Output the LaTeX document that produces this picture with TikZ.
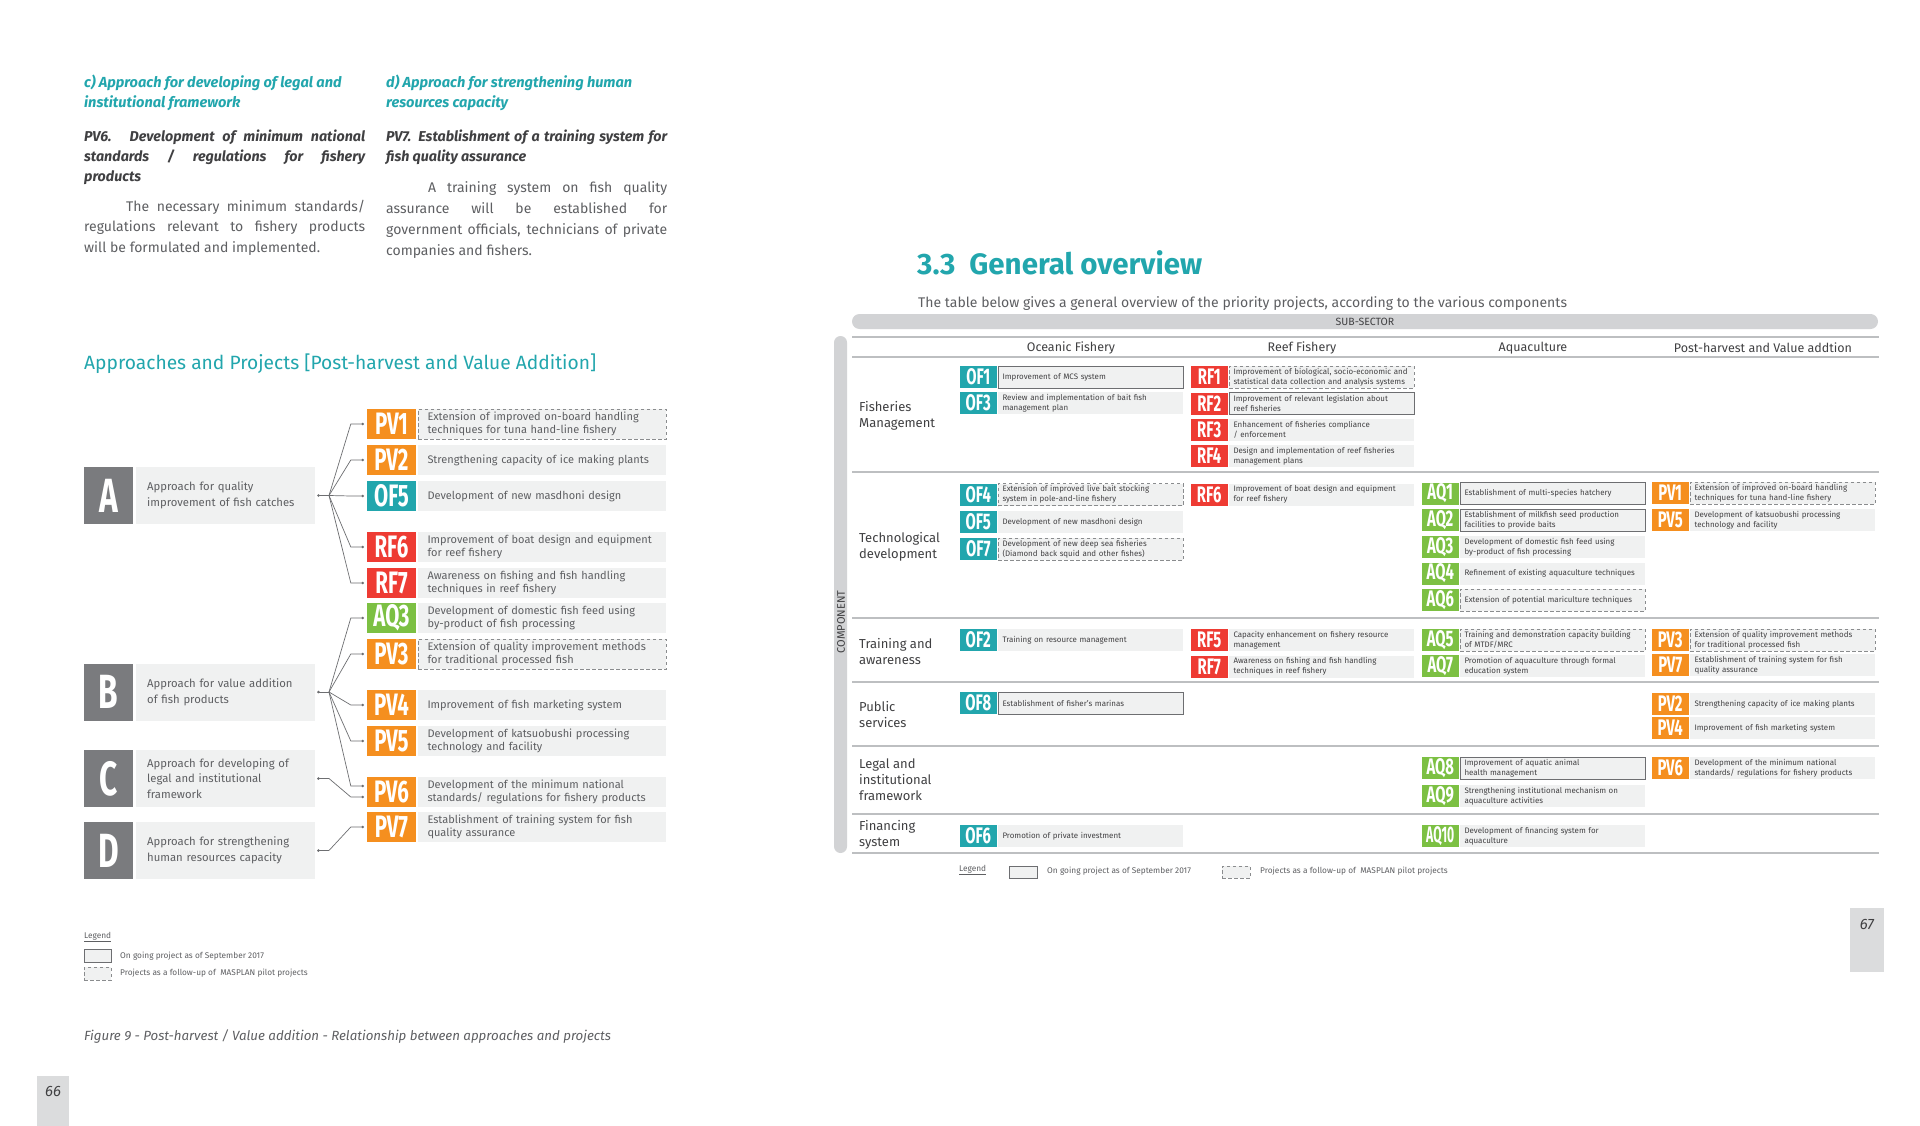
\documentclass[tikz,border=0pt]{standalone}
\usepackage{fontspec}
\setmainfont{Fira Sans}
\newfontfamily\codefont[FakeStretch=0.66]{Fira Sans}
\definecolor{cTeal}{HTML}{22A6AD}
\definecolor{cOrange}{HTML}{F58F1F}
\definecolor{cRed}{HTML}{EE3B33}
\definecolor{cGreen}{HTML}{7CC043}
\definecolor{cDark}{HTML}{7A7B7E}
\definecolor{cLight}{HTML}{F0F1F1}
\definecolor{cBody}{HTML}{5E5F62}
\definecolor{cHead}{HTML}{404042}
\definecolor{cLine}{HTML}{6D6E71}
\definecolor{cDash}{HTML}{8A8C8E}
\definecolor{cBar}{HTML}{D2D3D5}
\definecolor{cRule}{HTML}{BDBFC1}
\definecolor{cCell}{HTML}{414042}
\newcommand\lrow[6]{%
  \node[lcode,fill=#3] (#1c) at (391.5,#2) {#4};
  \node[ltext,#5] (#1t) at (542,#2) {#6};}
\newcommand\tcell[7]{%
  \node[tcode,fill=#4] (#1) at ({#2+18.25},#3) {#5};
  \node[ttext,#7] (#1t) at ({#2+130.5},#3) {#6};}
\newcommand\fanline[3]{%
  \draw[conn] (#1) -- ([xshift=-16pt,yshift=#3]#2.west) -- ([xshift=-4pt,yshift=#3]#2.west);
  \fill[cLine] ([xshift=-4pt,yshift=#3]#2.west) circle (1.4pt);}
\newcommand\jl[2]{\makebox[#1][s]{#2}}
\begin{document}
\begin{tikzpicture}[x=1pt,y=-1pt,
  lcode/.style={minimum width=49pt,minimum height=30pt,inner sep=0pt,text=white,font={\codefont\bfseries\fontsize{31}{31}\selectfont}},
  ltext/.style={fill=cLight,minimum width=248pt,minimum height=30pt,inner sep=0pt,text width=229pt,align=left,text=cBody,font={\fontsize{11}{12.7}\selectfont}},
  dashbox/.style={draw=cDash,dash pattern=on 3.5pt off 2.5pt,line width=0.9pt},
  solidbox/.style={draw=cLine,line width=0.9pt},
  conn/.style={draw=cLine,line width=0.7pt},
  apdark/.style={fill=cDark,minimum width=49pt,minimum height=57pt,inner sep=0pt,text=white,font={\codefont\bfseries\fontsize{48}{48}\selectfont}},
  aplight/.style={fill=cLight,anchor=west,minimum height=57pt,inner xsep=11pt,inner ysep=0pt,text width=157pt,align=left,text=cBody,font={\fontsize{11.3}{15.7}\selectfont}},
  tcode/.style={minimum width=36.5pt,minimum height=22pt,inner sep=0pt,text=white,font={\codefont\bfseries\fontsize{22.5}{22.5}\selectfont}},
  ttext/.style={fill=cLight,minimum width=185pt,minimum height=22pt,inner sep=0pt,text width=176pt,align=left,text=cCell,font={\hyphenpenalty=10000\fontsize{7.95}{9.6}\selectfont}},
  rowlab/.style={anchor=west,align=left,inner sep=0pt,text=cHead,font={\fontsize{13}{16}\selectfont}},
  colhead/.style={inner sep=0pt,text=cHead,font={\fontsize{12.5}{14}\selectfont}},
  para/.style={anchor=base west,inner sep=0pt,text=cBody,font={\fontsize{14}{20}\selectfont}},
  parh/.style={anchor=base west,inner sep=0pt,text=cTeal,font={\fontsize{14.6}{20}\selectfont\bfseries\itshape}},
  parb/.style={anchor=base west,inner sep=0pt,text=cHead,font={\fontsize{14.3}{20}\selectfont\bfseries\itshape}},
  legtext/.style={anchor=west,inner sep=0pt,text=cBody,font={\fontsize{8.3}{10}\selectfont}}]
\useasboundingbox (0,0) rectangle (1920,1126);
\fill[white] (0,0) rectangle (1920,1126);

% ---------- left page text ----------
\node[parh] (c1) at (84,88) {c) Approach for developing of legal and};
\node[parh] (c2) at (84,108) {institutional framework};
\node[parb] (c3) at (84,142) {\jl{281pt}{PV6. Development of minimum national}};
\node[parb] (c4) at (84,162) {\jl{281pt}{standards / regulations for fishery}};
\node[parb] (c5) at (84,182) {products};
\node[para] (c6) at (126,212) {\jl{239pt}{The necessary minimum standards/}};
\node[para] (c7) at (84,232) {\jl{281pt}{regulations relevant to fishery products}};
\node[para] (c8) at (84,252) {will be formulated and implemented.};

\node[parh] (d1) at (386,88) {d) Approach for strengthening human};
\node[parh] (d2) at (386,108) {resources capacity};
\node[parb] (d3) at (386,142) {\jl{281pt}{PV7. Establishment of a training system for}};
\node[parb] (d4) at (386,162) {fish quality assurance};
\node[para] (d5) at (428,193) {\jl{239pt}{A training system on fish quality}};
\node[para] (d6) at (386,214) {\jl{281pt}{assurance will be established for}};
\node[para] (d7) at (386,235) {\jl{281pt}{government officials, technicians of private}};
\node[para] (d8) at (386,256) {companies and fishers.};

\node[anchor=west,inner sep=0pt,text=cTeal,font={\fontsize{19.2}{22}\selectfont}] (ltitle) at (84,364) {Approaches and Projects [Post-harvest and Value Addition]};

% ---------- approaches ----------
\node[apdark] (Ad) at (108.5,495.5) {A};
\node[aplight] (Al) at (136,495.5) {Approach for quality\\improvement of fish catches};
\node[apdark] (Bd) at (108.5,692) {B};
\node[aplight] (Bl) at (136,692) {Approach for value addition\\of fish products};
\node[apdark] (Cd) at (108.5,778.5) {C};
\node[aplight] (Cl) at (136,778.5) {Approach for developing of\\legal and institutional\\framework};
\node[apdark] (Dd) at (108.5,850.5) {D};
\node[aplight] (Dl) at (136,850.5) {Approach for strengthening\\human resources capacity};

% ---------- projects (left) ----------
\lrow{lPV1}{424}{cOrange}{PV1}{dashbox}{Extension of improved on-board handling\\techniques for tuna hand-line fishery}
\lrow{lPV2}{460}{cOrange}{PV2}{}{Strengthening capacity of ice making plants}
\lrow{lOF5}{496}{cTeal}{OF5}{}{Development of new masdhoni design}
\lrow{lRF6}{547}{cRed}{RF6}{}{Improvement of boat design and equipment\\for reef fishery}
\lrow{lRF7}{583}{cRed}{RF7}{}{Awareness on fishing and fish handling\\techniques in reef fishery}
\lrow{lAQ3}{618}{cGreen}{AQ3}{}{Development of domestic fish feed using\\by-product of fish processing}
\lrow{lPV3}{654}{cOrange}{PV3}{dashbox}{Extension of quality improvement methods\\for traditional processed fish}
\lrow{lPV4}{705}{cOrange}{PV4}{}{Improvement of fish marketing system}
\lrow{lPV5}{741}{cOrange}{PV5}{}{Development of katsuobushi processing\\technology and facility}
\lrow{lPV6}{792}{cOrange}{PV6}{}{Development of the minimum national\\standards/ regulations for fishery products}
\lrow{lPV7}{827}{cOrange}{PV7}{}{Establishment of training system for fish\\quality assurance}

% ---------- connectors ----------
\coordinate (Afan) at (329,495.5);
\coordinate (Bfan) at (329,692);
\coordinate (Cfan) at (329,778.5);
\coordinate (Dfan) at (329,850.5);
\foreach \ap in {A,B,C,D}{
  \draw[conn] ([xshift=3pt]\ap l.east) -- (\ap fan);
  \fill[cLine] ([xshift=3pt]\ap l.east) circle (1.4pt);
}
\fanline{Afan}{lPV1c}{0pt}
\fanline{Afan}{lPV2c}{0pt}
\fanline{Afan}{lOF5c}{0pt}
\fanline{Afan}{lRF6c}{0pt}
\fanline{Afan}{lRF7c}{0pt}
\fanline{Bfan}{lAQ3c}{0pt}
\fanline{Bfan}{lPV3c}{0pt}
\fanline{Bfan}{lPV4c}{0pt}
\fanline{Bfan}{lPV5c}{0pt}
\fanline{Bfan}{lPV6c}{6pt}
\fanline{Cfan}{lPV6c}{-5pt}
\fanline{Dfan}{lPV7c}{0pt}

% ---------- left legend & caption ----------
\node[anchor=west,inner sep=0pt,text=cBody,font={\fontsize{8.3}{10}\selectfont}] (lleg) at (84,937) {\underline{Legend}};
\node[fill=cLight,draw=cLine,line width=0.7pt,minimum width=27pt,minimum height=13pt,inner sep=0pt] (lleg1) at (97.5,955.5) {};
\node[legtext] (lleg1t) at (120,956) {On going project as of September 2017};
\node[fill=cLight,dashbox,line width=0.7pt,minimum width=27pt,minimum height=13pt,inner sep=0pt] (lleg2) at (97.5,973.5) {};
\node[legtext] (lleg2t) at (120,973) {Projects as a follow-up of \ MASPLAN pilot projects};
\node[anchor=west,inner sep=0pt,text=cBody,font={\fontsize{13.3}{15}\selectfont\itshape}] (caption) at (84,1037) {Figure 9 - Post-harvest / Value addition - Relationship between approaches and projects};

\fill[cBar!80] (37,1076) rectangle (69,1126);
\node[inner sep=0pt,text=cHead,font={\fontsize{15}{15}\selectfont\itshape}] (p66) at (53,1091) {66};

% ---------- right page ----------
\node[anchor=west,inner sep=0pt,text=cTeal,font={\fontsize{29.5}{30}\selectfont\bfseries}] (rtitle) at (917,263) {3.3\ \ General overview};
\node[anchor=base west,inner sep=0pt,text=cBody,font={\fontsize{14}{16}\selectfont}] (rsub) at (918,307) {The table below gives a general overview of the priority projects, according to the various components};

\fill[cBar,rounded corners=7.5pt] (852,314) rectangle (1878,329);
\node[inner sep=0pt,text=cHead,font={\fontsize{10.5}{12}\selectfont}] (subsec) at (1365,322) {SUB-SECTOR};
\fill[cBar,rounded corners=6.5pt] (834,336) rectangle (847,853);
\node[rotate=90,inner sep=0pt,text=cHead,font={\fontsize{11}{12}\selectfont}] (comp) at (841,622) {COMPONENT};

\foreach \yy in {337,357,472,618,682,746,814,853}{
  \draw[cRule,line width=1.3pt] (852,\yy) -- (1879,\yy);
}
\node[colhead] (hOF) at (1071,348) {Oceanic Fishery};
\node[colhead] (hRF) at (1302,348) {Reef Fishery};
\node[colhead] (hAQ) at (1533,348) {Aquaculture};
\node[colhead] (hPV) at (1763,348) {Post-harvest and Value addtion};

\node[rowlab] (r1) at (859,416) {Fisheries\\Management};
\node[rowlab] (r2) at (859,546.5) {Technological\\development};
\node[rowlab] (r3) at (859,651.5) {Training and\\awareness};
\node[rowlab] (r4) at (859,715) {Public\\services};
\node[rowlab] (r5) at (859,780) {Legal and\\institutional\\framework};
\node[rowlab] (r6) at (859,835) {Financing\\system};

% Fisheries management
\tcell{tOF1}{960}{377}{cTeal}{OF1}{Improvement of MCS system}{solidbox}
\tcell{tOF3}{960}{403}{cTeal}{OF3}{Review and implementation of bait fish\\management plan}{}
\tcell{tRF1}{1191}{377}{cRed}{RF1}{Improvement of biological, socio-economic and\\statistical data collection and analysis systems}{dashbox}
\tcell{tRF2}{1191}{403.5}{cRed}{RF2}{Improvement of relevant legislation about\\reef fisheries}{solidbox}
\tcell{tRF3}{1191}{430}{cRed}{RF3}{Enhancement of fisheries compliance\\/ enforcement}{}
\tcell{tRF4}{1191}{456}{cRed}{RF4}{Design and implementation of reef fisheries\\management plans}{}
% Technological development
\tcell{tOF4}{960}{494.5}{cTeal}{OF4}{Extension of improved live bait stocking\\system in pole-and-line fishery}{dashbox}
\tcell{tOF5}{960}{522}{cTeal}{OF5}{Development of new masdhoni design}{}
\tcell{tOF7}{960}{549}{cTeal}{OF7}{Development of new deep sea fisheries\\(Diamond back squid and other fishes)}{dashbox}
\tcell{tRF6}{1191}{494.5}{cRed}{RF6}{Improvement of boat design and equipment\\for reef fishery}{}
\tcell{tAQ1}{1422}{493.5}{cGreen}{AQ1}{Establishment of multi-species hatchery}{solidbox}
\tcell{tAQ2}{1422}{520}{cGreen}{AQ2}{Establishment of milkfish seed production\\facilities to provide baits}{solidbox}
\tcell{tAQ3}{1422}{547}{cGreen}{AQ3}{Development of domestic fish feed using\\by-product of fish processing}{}
\tcell{tAQ4}{1422}{573.5}{cGreen}{AQ4}{Refinement of existing aquaculture techniques}{}
\tcell{tAQ6}{1422}{600}{cGreen}{AQ6}{Extension of potential mariculture techniques}{dashbox}
\tcell{tPV1}{1652}{493}{cOrange}{PV1}{Extension of improved on-board handling\\techniques for tuna hand-line fishery}{dashbox}
\tcell{tPV5}{1652}{520}{cOrange}{PV5}{Development of katsuobushi processing\\technology and facility}{}
% Training and awareness
\tcell{tOF2}{960}{640}{cTeal}{OF2}{Training on resource management}{}
\tcell{tRF5}{1191}{640}{cRed}{RF5}{Capacity enhancement on fishery resource\\management}{}
\tcell{tRF7}{1191}{666.5}{cRed}{RF7}{Awareness on fishing and fish handling\\techniques in reef fishery}{}
\tcell{tAQ5}{1422}{640}{cGreen}{AQ5}{Training and demonstration capacity building\\of MTDF/MRC}{dashbox}
\tcell{tAQ7}{1422}{666}{cGreen}{AQ7}{Promotion of aquaculture through formal\\education system}{}
\tcell{tPV3}{1652}{640}{cOrange}{PV3}{Extension of quality improvement methods\\for traditional processed fish}{dashbox}
\tcell{tPV7}{1652}{665}{cOrange}{PV7}{Establishment of training system for fish\\quality assurance}{}
% Public services
\tcell{tOF8}{960}{703}{cTeal}{OF8}{Establishment of fisher’s marinas}{solidbox}
\tcell{tPV2}{1652}{704}{cOrange}{PV2}{Strengthening capacity of ice making plants}{}
\tcell{tPV4}{1652}{728}{cOrange}{PV4}{Improvement of fish marketing system}{}
% Legal
\tcell{tAQ8}{1422}{768}{cGreen}{AQ8}{Improvement of aquatic animal\\health management}{solidbox}
\tcell{tAQ9}{1422}{796}{cGreen}{AQ9}{Strengthening institutional mechanism on\\aquaculture activities}{}
\tcell{tPV6}{1652}{768}{cOrange}{PV6}{Development of the minimum national\\standards/ regulations for fishery products}{}
% Financing
\tcell{tOF6}{960}{836}{cTeal}{OF6}{Promotion of private investment}{}
\tcell{tAQ10}{1422}{836}{cGreen}{\scalebox{0.82}[1]{AQ10}}{Development of financing system for\\aquaculture}{}

% right legend
\node[anchor=west,inner sep=0pt,text=cBody,font={\fontsize{8.3}{10}\selectfont}] (rleg) at (959,870) {\underline{Legend}};
\node[fill=cLight,draw=cLine,line width=0.7pt,minimum width=28pt,minimum height=12pt,inner sep=0pt] (rleg1) at (1023,872) {};
\node[legtext] (rleg1t) at (1047,871) {On going project as of September 2017};
\node[fill=cLight,dashbox,line width=0.7pt,minimum width=28pt,minimum height=12pt,inner sep=0pt] (rleg2) at (1236,872) {};
\node[legtext] (rleg2t) at (1260,871) {Projects as a follow-up of \ MASPLAN pilot projects};

\fill[cBar!80] (1850,908) rectangle (1884,972);
\node[inner sep=0pt,text=cHead,font={\fontsize{15}{15}\selectfont\itshape}] (p67) at (1867,924) {67};
\end{tikzpicture}
\end{document}
